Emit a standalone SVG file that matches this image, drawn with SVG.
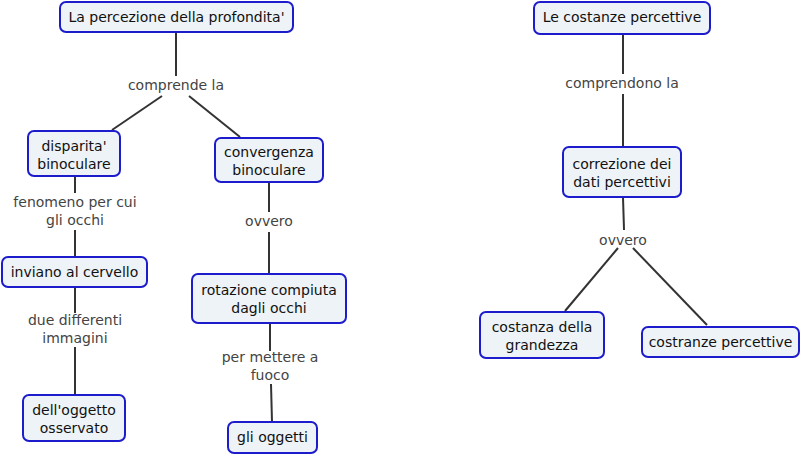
<svg xmlns="http://www.w3.org/2000/svg" width="804" height="456" viewBox="0 0 804 456">
<style>
.n rect{fill:#eef3f7;stroke:#1c1ccc;stroke-width:2}
.n text{font-family:"DejaVu Sans",Verdana,sans-serif;font-size:14px;fill:#111;text-anchor:middle}
.l text{font-family:"DejaVu Sans",Verdana,sans-serif;font-size:14px;fill:#444;text-anchor:middle}
.c line{stroke:#333;stroke-width:2}
</style>
<rect width="804" height="456" fill="#fff"/>
<g id="connectors" class="c">
<line x1="176" y1="33" x2="176" y2="76"/>
<line x1="162" y1="96" x2="112" y2="130"/>
<line x1="189" y1="96" x2="240" y2="137"/>
<line x1="75" y1="176" x2="75" y2="193"/>
<line x1="75" y1="230" x2="75" y2="257"/>
<line x1="75" y1="287" x2="75" y2="313"/>
<line x1="75" y1="347" x2="75" y2="395"/>
<line x1="269" y1="182" x2="269" y2="212"/>
<line x1="269" y1="232" x2="269" y2="274"/>
<line x1="270" y1="323" x2="270" y2="351"/>
<line x1="271" y1="384" x2="272" y2="422"/>
<line x1="623" y1="34" x2="623" y2="74"/>
<line x1="623" y1="94" x2="623" y2="147"/>
<line x1="623" y1="197" x2="624" y2="230"/>
<line x1="618" y1="248" x2="565" y2="311"/>
<line x1="633" y1="248" x2="707" y2="325"/>
</g>
<g id="labels" class="l">
<text x="176" y="90">comprende la</text>
<text x="75" y="207">fenomeno per cui</text>
<text x="75" y="225">gli occhi</text>
<text x="75" y="325">due differenti</text>
<text x="75" y="343">immagini</text>
<text x="269" y="226">ovvero</text>
<text x="270" y="362">per mettere a</text>
<text x="270" y="380">fuoco</text>
<text x="622" y="88">comprendono la</text>
<text x="623" y="245">ovvero</text>
</g>
<g id="n1" class="n"><rect x="60" y="2" width="233" height="30" rx="6"/><text x="176.5" y="22">La percezione della profondita'</text></g>
<g id="n2" class="n"><rect x="28" y="131" width="92" height="45" rx="6"/><text x="74" y="151">disparita'</text><text x="74" y="169">binoculare</text></g>
<g id="n3" class="n"><rect x="215" y="138" width="108" height="44" rx="6"/><text x="269" y="157">convergenza</text><text x="269" y="175">binoculare</text></g>
<g id="n4" class="n"><rect x="2" y="257" width="145" height="30" rx="6"/><text x="74.5" y="277">inviano al cervello</text></g>
<g id="n5" class="n"><rect x="23" y="395" width="102" height="46" rx="6"/><text x="74" y="415">dell'oggetto</text><text x="74" y="433">osservato</text></g>
<g id="n6" class="n"><rect x="192" y="274" width="154" height="49" rx="6"/><text x="269" y="295">rotazione compiuta</text><text x="269" y="313">dagli occhi</text></g>
<g id="n7" class="n"><rect x="228" y="422" width="89" height="31" rx="6"/><text x="272.5" y="442">gli oggetti</text></g>
<g id="n8" class="n"><rect x="534" y="2" width="176" height="32" rx="6"/><text x="622" y="22">Le costanze percettive</text></g>
<g id="n9" class="n"><rect x="563" y="147" width="118" height="50" rx="6"/><text x="622" y="169">correzione dei</text><text x="622" y="187">dati percettivi</text></g>
<g id="n10" class="n"><rect x="480" y="312" width="124" height="46" rx="6"/><text x="542" y="332">costanza della</text><text x="542" y="350">grandezza</text></g>
<g id="n11" class="n"><rect x="642" y="327" width="157" height="30" rx="6"/><text x="720.5" y="347">costranze percettive</text></g>
</svg>
